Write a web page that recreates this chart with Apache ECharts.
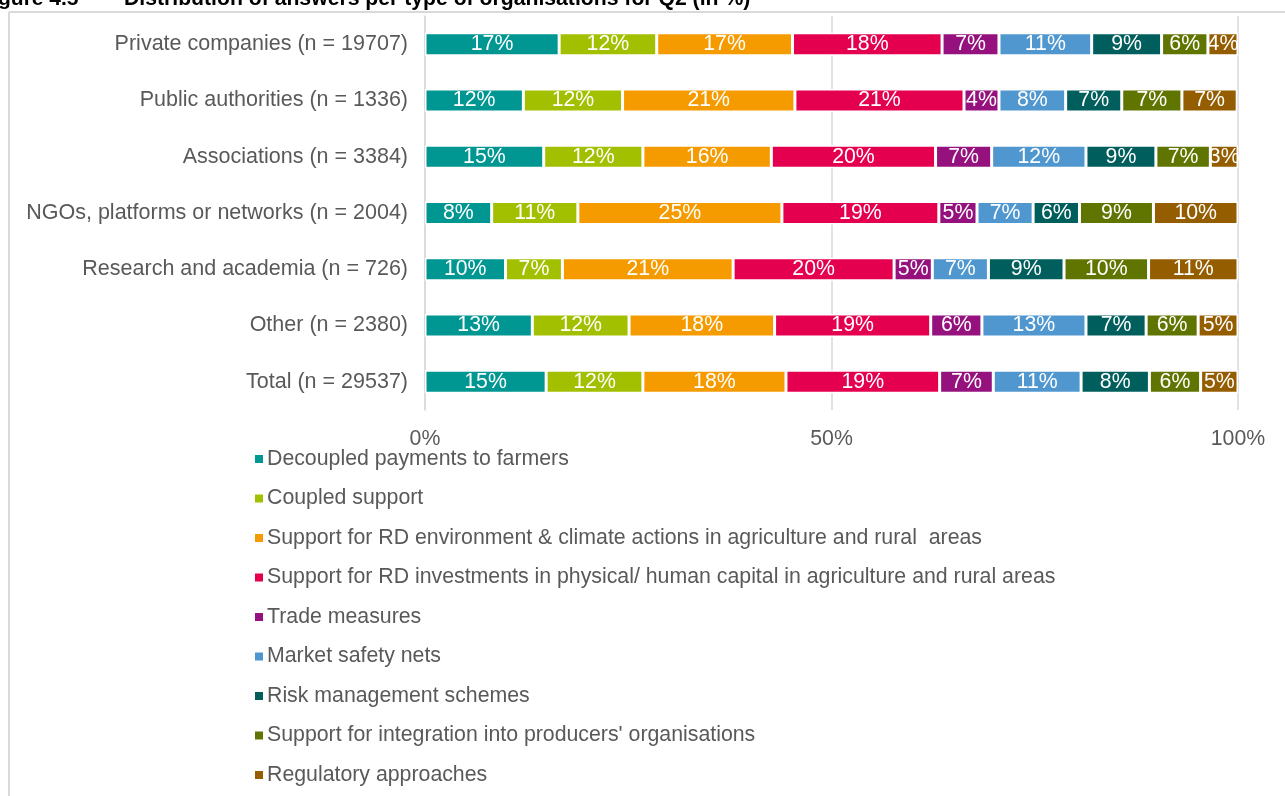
<!DOCTYPE html>
<html>
<head>
<meta charset="utf-8">
<script src="https://cdn.jsdelivr.net/npm/echarts@6/dist/echarts.min.js"></script>
<style>
  html, body { margin: 0; padding: 0; background: #fff; }
  #chart { width: 1285px; height: 796px; }
</style>
</head>
<body>
<div id="chart"></div>
<script>
// Organisation types (top to bottom)
const categories = [
    'Private companies (n = 19707)',
    'Public authorities (n = 1336)',
    'Associations (n = 3384)',
    'NGOs, platforms or networks (n = 2004)',
    'Research and academia (n = 726)',
    'Other (n = 2380)',
    'Total (n = 29537)'
];

const seriesNames = [
    'Decoupled payments to farmers',
    'Coupled support',
    'Support for RD environment & climate actions in agriculture and rural  areas',
    'Support for RD investments in physical/ human capital in agriculture and rural areas',
    'Trade measures',
    'Market safety nets',
    'Risk management schemes',
    "Support for integration into producers' organisations",
    'Regulatory approaches'
];

const colors = ['#009691', '#a2c000', '#f59b00', '#e4004f', '#95127e', '#4f97ce', '#005e5c', '#607500', '#945d00'];

// shares in %, one array per answer, in category order
const decoupled   = [16.5, 12.1, 14.6,  8.2,  9.9, 13.2, 14.9];
const coupled     = [12.0, 12.2, 12.2, 10.6,  7.0, 11.9, 11.9];
const rdEnv       = [16.7, 21.2, 15.8, 25.1, 21.0, 17.9, 17.6];
const rdInvest    = [18.4, 20.8, 20.2, 19.3, 19.8, 19.2, 18.9];
const trade       = [ 7.0,  4.3,  6.9,  4.7,  4.7,  6.3,  6.6];
const safetyNets  = [11.4,  8.2, 11.6,  6.9,  6.9, 12.8, 10.8];
const riskMgmt    = [ 8.6,  6.9,  8.6,  5.7,  9.3,  7.4,  8.4];
const producerOrg = [ 5.7,  7.4,  6.7,  9.1, 10.4,  6.4,  6.3];
const regulatory  = [ 3.7,  6.8,  3.4, 10.4, 11.0,  4.9,  4.6];

const seriesData = [decoupled, coupled, rdEnv, rdInvest, trade, safetyNets, riskMgmt, producerOrg, regulatory];

const textGrey = '#595959';
const lineGrey = '#d9d9d9';
const font = 'Liberation Sans, Arial, sans-serif';

const chart = echarts.init(document.getElementById('chart'));

chart.setOption({
    animation: false,
    color: colors,
    textStyle: { fontFamily: font },
    graphic: [
        // frame round the figure
        { type: 'line', shape: { x1: 9, y1: 12, x2: 1285, y2: 12 }, style: { stroke: lineGrey, lineWidth: 2 } },
        { type: 'line', shape: { x1: 9, y1: 12, x2: 9, y2: 796 }, style: { stroke: lineGrey, lineWidth: 2 } },
        // clipped title
        { type: 'text', x: -2, y: -1, style: { text: 'gure 4.5', fontSize: 21, fontWeight: 'bold', fill: '#000', verticalAlign: 'middle', fontFamily: font } },
        { type: 'text', x: 124, y: -1, style: { text: 'Distribution of answers per type of organisations for Q2 (in %)', fontSize: 21.2, fontWeight: 'bold', fill: '#000', verticalAlign: 'middle', fontFamily: font } }
    ],
    grid: { left: 425, right: 47, top: 16, bottom: 386, containLabel: false },
    legend: {
        orient: 'vertical',
        left: 253,
        top: 447,
        height: 349,
        padding: 0,
        icon: 'rect',
        itemWidth: 10,
        itemHeight: 10,
        itemGap: 15.5,
        textStyle: { color: textGrey, fontSize: 21.3, lineHeight: 24, padding: [0, 0, 0, -2] },
        data: seriesNames
    },
    xAxis: {
        type: 'value',
        min: 0,
        max: 100,
        interval: 50,
        axisLine: { show: false },
        axisTick: { show: false },
        splitLine: { show: true, lineStyle: { color: lineGrey, width: 1.5 } },
        axisLabel: { formatter: '{value}%', color: textGrey, fontSize: 21.3, margin: 19 }
    },
    yAxis: {
        type: 'category',
        inverse: true,
        data: categories,
        axisLine: { show: true, lineStyle: { color: lineGrey, width: 1.5 } },
        axisTick: { show: false },
        axisLabel: { color: textGrey, fontSize: 21.5, margin: 17 }
    },
    series: seriesNames.map((name, i) => ({
        name: name,
        type: 'bar',
        stack: 'total',
        barWidth: 23,
        data: seriesData[i],
        itemStyle: { borderColor: '#fff', borderWidth: 1.5 },
        label: {
            show: true,
            position: 'inside',
            color: '#fff',
            fontSize: 21.3,
            formatter: p => Math.round(p.value) + '%'
        }
    }))
});
</script>
</body>
</html>
